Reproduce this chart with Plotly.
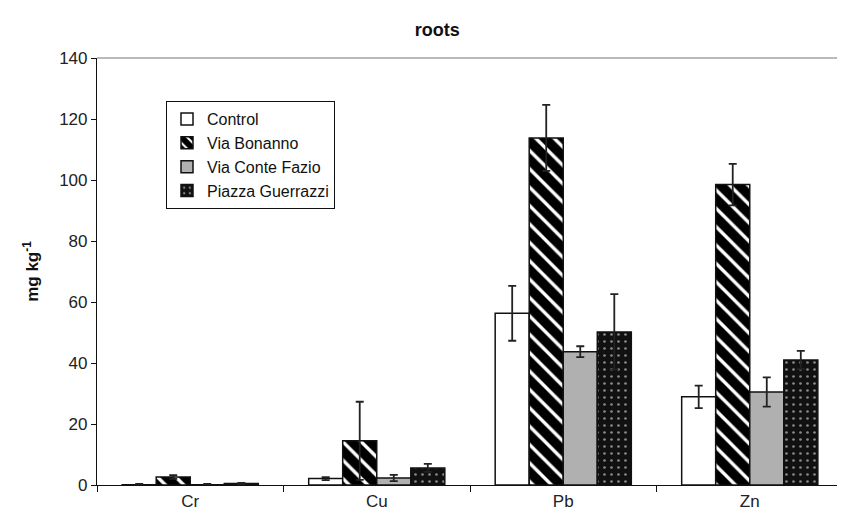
import plotly.graph_objects as go

categories = ["Cr", "Cu", "Pb", "Zn"]
series_names = ["Control", "Via Bonanno", "Via Conte Fazio", "Piazza Guerrazzi"]
control = [0.1, 2.1, 56.3, 28.9]
control_err = [0.3, 0.5, 9.0, 3.7]
bonanno = [2.6, 14.5, 113.8, 98.5]
bonanno_err = [0.6, 12.8, 10.8, 6.8]
conte = [0.1, 2.3, 43.7, 30.5]
conte_err = [0.3, 1.0, 1.8, 4.8]
piazza = [0.5, 5.6, 50.2, 41.0]
piazza_err = [0.2, 1.3, 12.4, 3.0]

values = [control, bonanno, conte, piazza]
errors = [control_err, bonanno_err, conte_err, piazza_err]

styles = [
    dict(color="white", pattern=dict(shape="")),
    dict(color="white", pattern=dict(shape="\\", fgcolor="#000000", bgcolor="white",
                                     fgopacity=1, size=13, solidity=0.74)),
    dict(color="#b0b0b0", pattern=dict(shape="")),
    dict(color="#111111", pattern=dict(shape=".", fgcolor="white", bgcolor="#111111", size=7, solidity=0.12)),
]

fig = go.Figure()
for name, vals, errs, st in zip(series_names, values, errors, styles):
    fig.add_trace(go.Bar(
        x=categories, y=vals, name=name,
        marker=dict(color=st["color"], pattern=st["pattern"],
                    line=dict(color="#111111", width=1.5)),
        error_y=dict(type="data", array=errs, visible=True,
                     color="#222222", thickness=1.8, width=4),
    ))

fig.update_layout(
    width=845, height=518,
    margin=dict(l=89, r=10, t=50, b=41),
    paper_bgcolor="white", plot_bgcolor="white",
    barmode="group", bargap=0.27, bargroupgap=0,
    font=dict(family="Liberation Sans, Arial, sans-serif", size=17, color="#222222"),
    title=dict(text="<b>roots</b>", x=0.456, xref="paper", y=0.958, yref="container",
               xanchor="center", yanchor="middle", font=dict(size=18, color="#111111")),
    showlegend=True,
    legend=dict(x=0.0925, y=0.899, xanchor="left", yanchor="top",
                bgcolor="white", bordercolor="#111111", borderwidth=1,
                font=dict(size=16, color="#111111"), tracegroupgap=0,
                itemwidth=30),
    xaxis=dict(showline=True, linecolor="#111111", linewidth=1.2,
               ticks="outside", ticklen=6, tickcolor="#111111",
               tickson="boundaries", showgrid=False, zeroline=False),
    yaxis=dict(range=[0, 140], dtick=20, showline=True, linecolor="#111111",
               linewidth=1.2, ticks="outside", ticklen=5, tickcolor="#111111",
               showgrid=False, zeroline=False,
               title=dict(text="<b>mg kg<sup>-1</sup></b>", standoff=16,
                          font=dict(size=17, color="#111111"))),
)

fig.add_shape(type="line", xref="paper", yref="paper", x0=0, x1=1, y0=1, y1=1,
              line=dict(color="#777777", width=1.2))
fig.add_shape(type="line", xref="paper", yref="paper", x0=1, x1=1, y0=0, y1=1,
              line=dict(color="#777777", width=1.2))

fig.write_html("out.html")
